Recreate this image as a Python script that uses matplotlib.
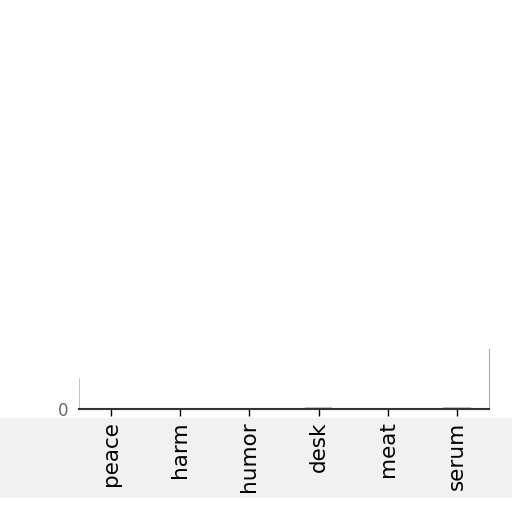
import matplotlib
matplotlib.use("Agg")
import matplotlib.pyplot as plt
from matplotlib.patches import Rectangle

categories = ["peace", "harm", "humor", "desk", "meat", "serum"]
values = [2.0, 1.0, 2.5, 3.0, 1.0, 3.5]

fig = plt.figure(figsize=(5.12, 5.12), dpi=100)
# faint grey shading under the axis (as in the reference picture)
fig.patches.append(Rectangle((0, 14/512), 1, 80/512, transform=fig.transFigure,
                             facecolor="#f1f1f1", edgecolor="none", zorder=-5))
ax = fig.add_axes([79/512, (512-409)/512, (489-79)/512, 60/512])
ax.patch.set_alpha(0)
ax.bar(range(len(categories)), values, width=0.4, color="#7fa8c9", alpha=0.6)
ax.set_xlim(-0.46, 5.46)
ax.set_ylim(0, 100)
ax.set_yticks([0])
ax.set_yticklabels(["0"], fontsize=12, color="#666666")
ax.set_xticks(range(len(categories)))
ax.set_xticklabels(categories, rotation=90, fontsize=15.5)
ax.spines["top"].set_visible(False)
ax.spines["left"].set_bounds(0, 52)
ax.spines["left"].set_linewidth(0.5)
ax.spines["left"].set_color("#aaaaaa")
ax.spines["right"].set_color("#aaaaaa")
ax.spines["bottom"].set_linewidth(1.5)
ax.spines["bottom"].set_color("#333333")
ax.tick_params(axis="y", length=0, pad=8)
ax.tick_params(axis="x", length=5, width=1, pad=4)
fig.savefig("out.png", dpi=100)
